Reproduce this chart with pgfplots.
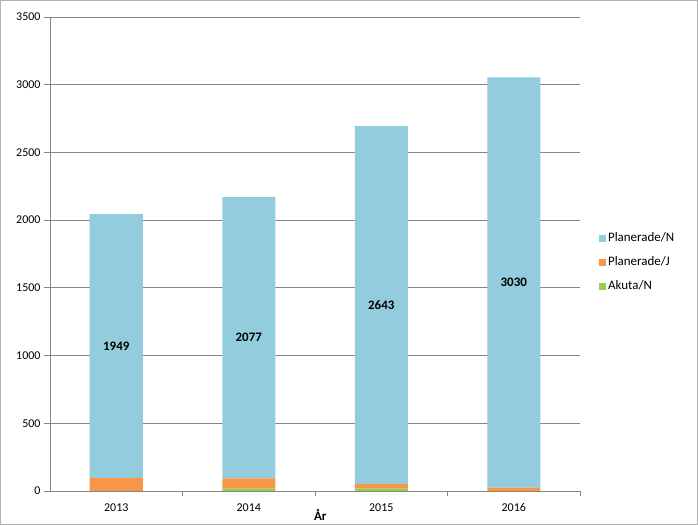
\documentclass[border=0pt]{standalone}
\usepackage{fontspec}
\setmainfont{Carlito}
\usepackage{pgfplots}
\pgfplotsset{compat=1.18}
\definecolor{cblue}{RGB}{147,205,221}
\definecolor{corange}{RGB}{247,150,70}
\definecolor{cgreen}{RGB}{146,208,80}
\definecolor{caxis}{RGB}{134,134,134}
\begin{document}
\begin{tikzpicture}
\path[use as bounding box] (0,0) rectangle (698bp,525bp);
\draw[gray!60, line width=1.2bp] (0.6bp,0.6bp) rectangle (697.4bp,524.4bp);
\begin{axis}[
  at={(50bp,34bp)}, anchor=south west,
  scale only axis, width=530bp, height=474bp,
  ybar stacked, bar width=53bp,
  xmin=-0.5, xmax=3.5, ymin=0, ymax=3500,
  axis x line*=bottom, axis y line*=left,
  axis line style={caxis, line width=0.8bp},
  xtick={0,1,2,3}, xticklabels={2013,2014,2015,2016},
  major x tick style={draw=none},
  minor xtick={0.5,1.5,2.5,3.5},
  minor x tick style={caxis, line width=0.8bp},
  minor tick length=5bp,
  ytick={0,500,...,3500},
  major y tick style={caxis, line width=0.8bp},
  major tick length=6bp,
  tick align=outside,
  ymajorgrids, grid style={caxis, line width=0.8bp},
  tick label style={font=\fontsize{12}{14}\selectfont, black},
  /pgf/number format/assume math mode=true,
  /pgf/number format/1000 sep={},
  xticklabel style={yshift=-3bp},
  xlabel={\textbf{År}},
  xlabel style={font=\fontsize{13}{15}\selectfont, at={(axis description cs:0.51,0)}, anchor=north, yshift=-15bp},
  reverse legend,
  legend style={at={(1.03,0.483)}, anchor=west, draw=none, fill=none,
    font=\fontsize{13}{15}\selectfont, row sep=9.5bp},
  legend cell align=left,
  legend image code/.code={\fill[#1] (0bp,-3.5bp) rectangle (7bp,3.5bp);},
]
\addplot[fill=cgreen, draw=none] coordinates {(0,0) (1,18) (2,18) (3,0)};
\addplot[fill=corange, draw=none] coordinates {(0,95) (1,75) (2,33) (3,25)};
\addplot[fill=cblue, draw=none,
  nodes near coords, point meta=rawy,
  nodes near coords align={center},
  every node near coord/.append style={anchor=center, black, font=\fontsize{13}{15}\selectfont\bfseries,
    /pgf/number format/fixed, /pgf/number format/1000 sep={}}]
  coordinates {(0,1949) (1,2077) (2,2643) (3,3030)};
\legend{Akuta/N, Planerade/J, Planerade/N}
\end{axis}
\end{tikzpicture}
\end{document}
